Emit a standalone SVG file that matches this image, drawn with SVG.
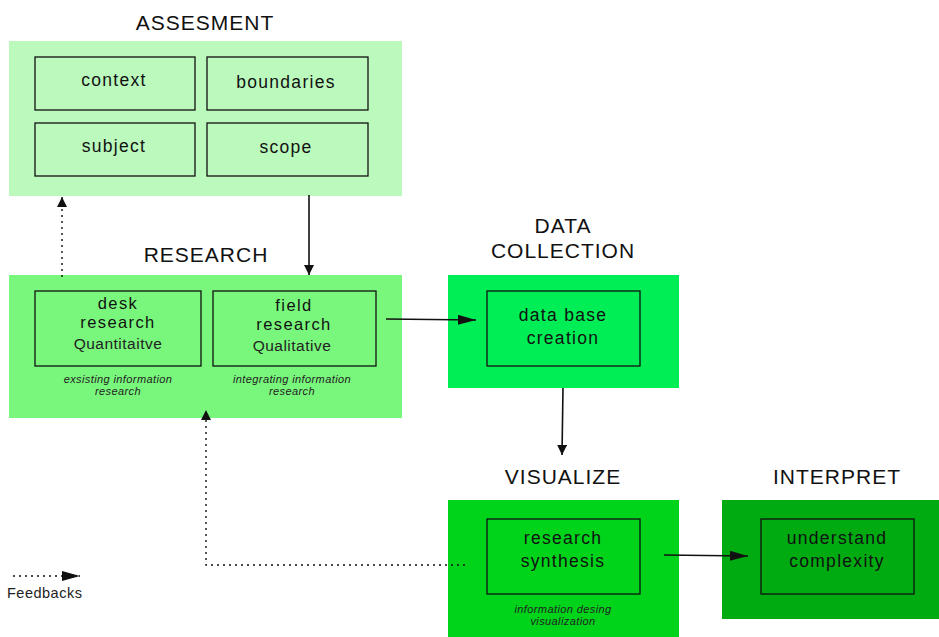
<svg xmlns="http://www.w3.org/2000/svg" width="939" height="637" viewBox="0 0 939 637">
  <style>
    .title { font-family: "Liberation Sans", Arial, sans-serif; font-size: 21px; fill: #111; text-anchor: middle; letter-spacing: 1px; }
    .lbl { font-family: "Liberation Sans", Arial, sans-serif; font-size: 17.5px; fill: #111; text-anchor: middle; letter-spacing: 1.3px; }
    .lbl2 { font-family: "Liberation Sans", Arial, sans-serif; font-size: 16.5px; fill: #111; text-anchor: middle; letter-spacing: 1.4px; }
    .sub { font-family: "Liberation Sans", Arial, sans-serif; font-size: 15.5px; font-weight: 300; fill: #222; text-anchor: middle; letter-spacing: 0.5px; }
    .note { font-family: "Liberation Sans", Arial, sans-serif; font-size: 11px; font-style: italic; fill: #222; text-anchor: middle; letter-spacing: 0.4px; }
    .box { fill: none; stroke: #111; stroke-width: 1.3; }
    .flow { stroke: #111; stroke-width: 1.6; fill: none; }
    .fb { stroke: #111; stroke-width: 1.4; fill: none; stroke-dasharray: 2 4; }
  </style>
  <defs>
    <marker id="head" viewBox="0 0 10 10" refX="10" refY="5" markerWidth="10" markerHeight="10" markerUnits="userSpaceOnUse" orient="auto">
      <path d="M0,0 L10,5 L0,10 z" fill="#111"/>
    </marker>
    <marker id="headL" viewBox="0 0 18 10" refX="18" refY="5" markerWidth="18" markerHeight="10" markerUnits="userSpaceOnUse" orient="auto">
      <path d="M0,0 L18,5 L0,10 z" fill="#111"/>
    </marker>
  </defs>

  <rect width="939" height="637" fill="#ffffff"/>

  <g id="assessment">
    <text class="title" x="205" y="30">ASSESMENT</text>
    <rect x="9" y="41" width="393" height="155" fill="#bbf9bd"/>
    <rect class="box" x="35" y="57" width="160" height="53"/>
    <text class="lbl" x="114" y="86">context</text>
    <rect class="box" x="207" y="57" width="161" height="53"/>
    <text class="lbl" x="286" y="88">boundaries</text>
    <rect class="box" x="35" y="123" width="160" height="53"/>
    <text class="lbl" x="114" y="152">subject</text>
    <rect class="box" x="207" y="123" width="161" height="53"/>
    <text class="lbl" x="286" y="153">scope</text>
  </g>

  <g id="research">
    <text class="title" x="206" y="262">RESEARCH</text>
    <rect x="9" y="275" width="393" height="143" fill="#79f77c"/>
    <rect class="box" x="35" y="291" width="166" height="75"/>
    <text class="lbl2" x="118" y="309">desk</text>
    <text class="lbl2" x="118" y="328">research</text>
    <text class="sub" x="118" y="349">Quantitaitve</text>
    <rect class="box" x="213" y="291" width="163" height="75"/>
    <text class="lbl2" x="294" y="311">field</text>
    <text class="lbl2" x="294" y="330">research</text>
    <text class="sub" x="292" y="351">Qualitative</text>
    <text class="note" x="118" y="383">exsisting information</text>
    <text class="note" x="118" y="394.5">research</text>
    <text class="note" x="292" y="383">integrating information</text>
    <text class="note" x="292" y="394.5">research</text>
  </g>

  <g id="data-collection">
    <text class="title" x="563" y="233">DATA</text>
    <text class="title" x="563" y="258">COLLECTION</text>
    <rect x="448" y="275" width="231" height="113" fill="#00ee55"/>
    <rect class="box" x="487" y="291" width="153" height="75"/>
    <text class="lbl" x="563" y="321">data base</text>
    <text class="lbl" x="563" y="344">creation</text>
  </g>

  <g id="visualize">
    <text class="title" x="563" y="484">VISUALIZE</text>
    <rect x="448" y="500" width="231" height="137" fill="#00d41a"/>
    <rect class="box" x="487" y="519" width="153" height="75"/>
    <text class="lbl" x="563" y="544">research</text>
    <text class="lbl" x="563" y="567">synthesis</text>
    <text class="note" x="563" y="613">information desing</text>
    <text class="note" x="563" y="624.5">visualization</text>
  </g>

  <g id="interpret">
    <text class="title" x="837" y="484">INTERPRET</text>
    <rect x="722" y="500" width="217" height="119" fill="#00aa11"/>
    <rect class="box" x="761" y="519" width="153" height="75"/>
    <text class="lbl" x="837" y="544">understand</text>
    <text class="lbl" x="837" y="567">complexity</text>
  </g>

  <g id="connectors">
    <path class="flow" d="M309,195 L309,275" marker-end="url(#head)"/>
    <path class="flow" d="M386,319 L476,320" marker-end="url(#headL)"/>
    <path class="flow" d="M563,388 L562,455" marker-end="url(#head)"/>
    <path class="flow" d="M664,555 L748,556" marker-end="url(#headL)"/>
    <path class="fb" d="M62,277 L62,197" marker-end="url(#head)"/>
    <path class="fb" d="M465,565 L206,565 L206,410" marker-end="url(#head)"/>
  </g>

  <g id="legend">
    <path class="fb" d="M13,576 L80,576" marker-end="url(#headL)"/>
    <text x="7" y="598" font-family="Liberation Sans, Arial, sans-serif" font-size="14.5" font-weight="300" fill="#222" letter-spacing="0.5">Feedbacks</text>
  </g>
</svg>
